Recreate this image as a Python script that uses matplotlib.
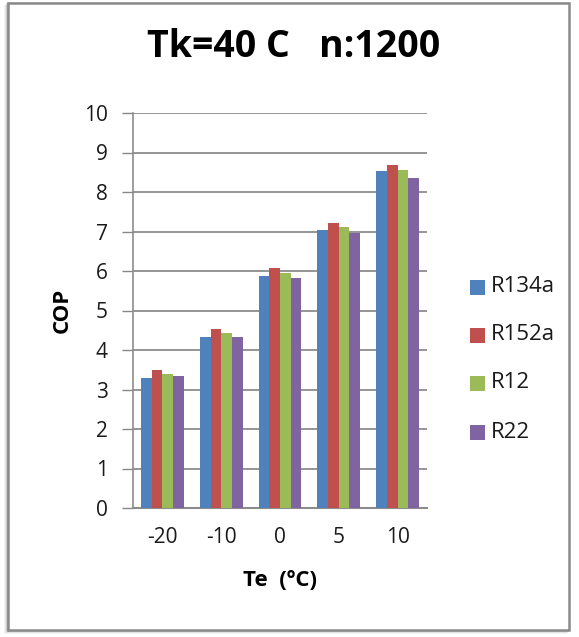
import matplotlib
matplotlib.use("Agg")
import matplotlib.pyplot as plt
from matplotlib.patches import Rectangle
import numpy as np

categories = ["-20", "-10", "0", "5", "10"]
series_names = ["R134a", "R152a", "R12", "R22"]
r134a = [3.30, 4.34, 5.88, 7.05, 8.52]
r152a = [3.50, 4.54, 6.08, 7.21, 8.69]
r12 = [3.40, 4.42, 5.94, 7.11, 8.56]
r22 = [3.33, 4.34, 5.82, 6.95, 8.36]
colors = ["#4F81BD", "#C0504D", "#9BBB59", "#8064A2"]
yticks = list(range(0, 11))

FONT = ["Open Sans", "DejaVu Sans"]
plt.rcParams['font.family'] = FONT

W, H = 579, 637
fig = plt.figure(figsize=(W / 100, H / 100), dpi=100)

# border with soft shadow
for i, a in enumerate([0.04, 0.07, 0.10, 0.14]):
    fig.patches.append(Rectangle(((8 - 4 + i) / W, (H - 634 + i) / H), (563) / W, (629) / H,
                                 transform=fig.transFigure, facecolor=(0, 0, 0, a),
                                 edgecolor='none', zorder=0))
fig.patches.append(Rectangle((8 / W, (H - 630) / H), 561 / W, 627 / H,
                             transform=fig.transFigure, facecolor='white',
                             edgecolor='#8a8a8a', linewidth=1.8, zorder=1))

left, right, top, bottom = 133, 427, 113, 508
ax = fig.add_axes([left / W, (H - bottom) / H, (right - left) / W, (bottom - top) / H])
ax.set_zorder(2)
ax.patch.set_alpha(0)

x = np.arange(len(categories))
bw = 1 / 5.5
data = [r134a, r152a, r12, r22]
for i, (vals, c, name) in enumerate(zip(data, colors, series_names)):
    ax.bar(x + (i - 1.5) * bw, vals, width=bw, color=c, label=name, zorder=3,
           edgecolor='none')

ax.set_xlim(-0.5, len(categories) - 0.5)
ax.set_ylim(0, 10)
ax.set_yticks(yticks)
ax.set_yticklabels([str(t) for t in yticks], fontsize=15, color='#1a1a1a')
ax.set_xticks(x)
ax.set_xticklabels(categories, fontsize=15, color='#1a1a1a')
ax.tick_params(axis='x', length=0, pad=14)
ax.tick_params(axis='y', length=8, width=1, color='#888888', pad=10, direction='out')
ax.grid(axis='y', color='#8c8c8c', linewidth=1.3, zorder=1)
ax.set_axisbelow(True)
for s in ['top', 'right']:
    ax.spines[s].set_visible(False)
ax.spines['left'].set_color('#8c8c8c')
ax.spines['bottom'].set_color('#8c8c8c')
ax.spines['left'].set_linewidth(1.2)
ax.spines['bottom'].set_linewidth(1.5)

fig.text(294 / W, 1 - 47 / H, "Tk=40 C   n:1200", fontsize=27, fontweight='bold',
         ha='center', va='center', color='black')
fig.text(62 / W, 1 - 310 / H, "COP", fontsize=16, fontweight='bold', rotation=90,
         ha='center', va='center')
fig.text(280 / W, 1 - 580 / H, "Te  (\u00baC)", fontsize=16, fontweight='bold',
         ha='center', va='center')

# legend
leg_y = [287, 335, 383, 432]
for name, c, yy in zip(series_names, colors, leg_y):
    fig.patches.append(Rectangle((470 / W, 1 - (yy + 7.5) / H), 15 / W, 15 / H,
                                 transform=fig.transFigure, facecolor=c,
                                 edgecolor='none', zorder=3))
    fig.text(491 / W, 1 - yy / H, name, fontsize=16, ha='left', va='center',
             color='#1a1a1a')

fig.savefig("out.png", dpi=100)
